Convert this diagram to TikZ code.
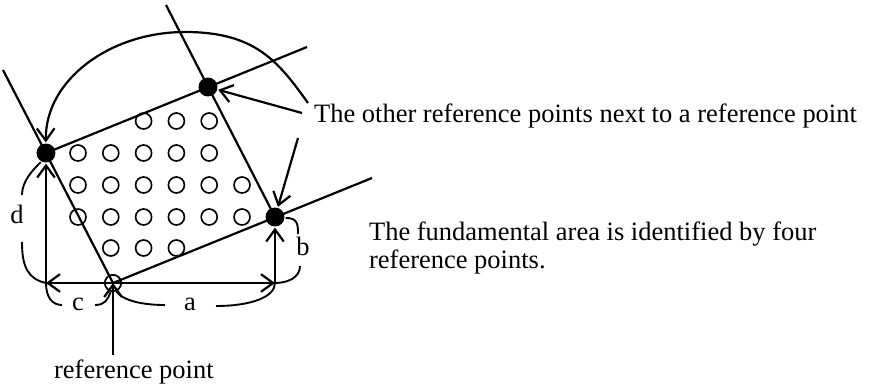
\documentclass[tikz,border=0pt]{standalone}
\usepackage{fontspec}
\setmainfont{Liberation Serif}
\usetikzlibrary{arrows.meta,calc}

\begin{document}
\begin{tikzpicture}[x=0.453pt,y=-0.453pt,line width=1pt,
  >={Straight Barb[length=5.5pt,width=8pt]},
  refdot/.style={circle,fill,inner sep=0pt,minimum size=8.6pt},
  refring/.style={circle,draw,inner sep=0pt,minimum size=7.4pt,line width=0.8pt},
  lbl/.style={inner sep=0pt,font=\fontsize{12}{14}\selectfont},
  brk/.style={line width=0.85pt}]
\useasboundingbox (0,0) rectangle (870,390);
\node[refring] (O) at (113,283) {};
\node[refdot] (L) at (46,153) {};
\node[refdot] (T) at (208,87) {};
\node[refdot] (R) at (275,217) {};
\coordinate (eLO) at (3,70);
\coordinate (eOR) at (372,178);
\coordinate (eRT) at (166,5);
\coordinate (eLT) at (307,47);
\coordinate (dL) at (46,283);
\coordinate (dR) at (275,283);
\coordinate (pT) at (302,113);
\coordinate (pB) at (298,138);
\coordinate (pO) at (113,355);
\coordinate (aS) at (308,103);
\coordinate (aM) at (185,32);
\draw (eLO) -- (O.center) -- (eOR);
\draw (eRT) -- (R.center);
\draw (L.center) -- (eLT);
\foreach \y/\xs in {121/{2,3,4},153/{0,1,2,3,4},185/{0,1,2,3,4,5},217/{0,1,2,3,4,5},248/{1,2,3}}
  \foreach \i in \xs \draw[line width=0.75pt] (78+32.8*\i,\y) circle (8);
\node[lbl,anchor=base west] (other) at (313,122) {The other reference points next to a reference point};
\node[lbl,anchor=base west] (fundA) at (368,240) {The fundamental area is identified by four};
\node[lbl,anchor=base west] (fundB) at (368,268) {reference points.};
\node[lbl,anchor=base west] (refpt) at (53,378) {reference point};
\node[lbl] (d) at (17,214) {d};
\node[lbl] (c) at (78,304) {c};
\node[lbl] (a) at (190,304) {a};
\node[lbl] (b) at (303,246) {b};
\draw[->] (pT) -- (T);
\draw[->] (pB) -- (R);
\draw[->] (pO) -- (O.center);
\draw[<->] (dL) -- (dR);
\draw[->] (dL) -- (L);
\draw[->] (dR) -- (R);
\draw[->] (aS) .. controls (278,61) and (255,32) .. (aM) .. controls (110,32) and (45,80) .. (L);
\draw[brk] (L.240) .. controls +(-8,8) and +(0,-14) .. ($(d)+(5,-19)$);
\draw[brk] ($(d)+(5,28)$) .. controls +(0,25) and +(-18,-4) .. (dL);
\draw[brk] (dL) .. controls +(0,14) and +(-10,0) .. ($(c)+(-16,1)$);
\draw[brk] ($(c)+(17,1)$) .. controls +(10,0) and +(-3,8) .. (O.255);
\draw[brk] (O.290) .. controls +(8,10) and +(-20,0) .. ($(a)+(-25,1)$);
\draw[brk] ($(a)+(26,2)$) .. controls +(35,0) and +(0,14) .. (dR);
\draw[brk] (R.-5) .. controls +(12,0) and +(0,-10) .. ($(b)+(-5,-12)$);
\draw[brk] ($(b)+(-3,20)$) .. controls +(0,12) and +(12,0) .. (dR);
\end{tikzpicture}
\end{document}
